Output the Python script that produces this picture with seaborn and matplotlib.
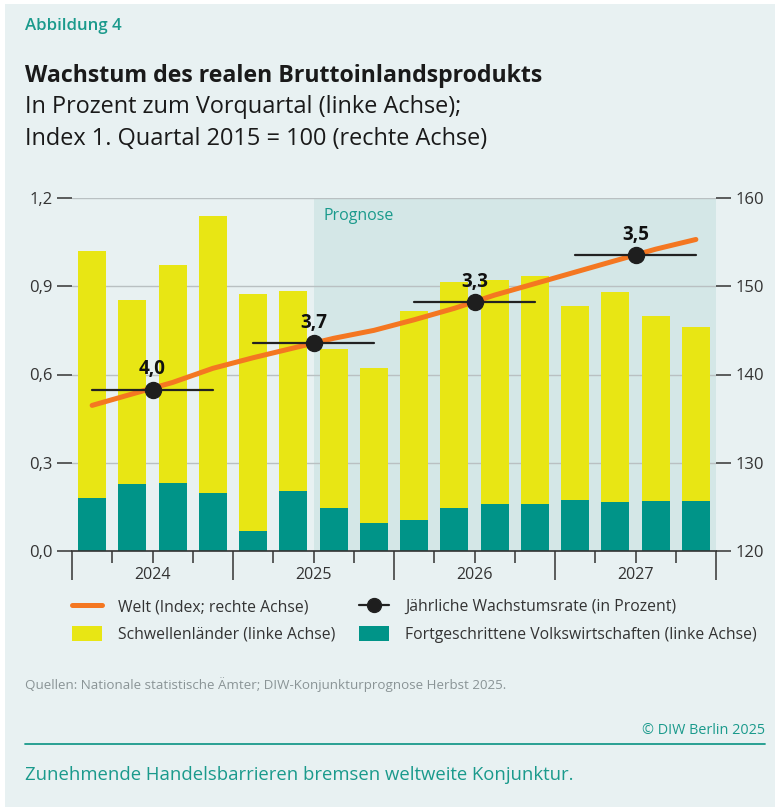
import matplotlib
matplotlib.use("Agg")
import matplotlib.pyplot as plt
import matplotlib.patches as mpatches
from matplotlib.lines import Line2D
import numpy as np
import pandas as pd
import seaborn as sns

# ---------------- data ----------------
quarters = ["2024Q1", "2024Q2", "2024Q3", "2024Q4",
            "2025Q1", "2025Q2", "2025Q3", "2025Q4",
            "2026Q1", "2026Q2", "2026Q3", "2026Q4",
            "2027Q1", "2027Q2", "2027Q3", "2027Q4"]
total_growth = [1.02, 0.853, 0.972, 1.139, 0.874, 0.884, 0.687, 0.622,
                0.816, 0.915, 0.921, 0.936, 0.833, 0.879, 0.799, 0.761]
advanced = [0.181, 0.228, 0.231, 0.197, 0.068, 0.205, 0.147, 0.096,
            0.105, 0.146, 0.159, 0.159, 0.172, 0.168, 0.170, 0.170]
world_index = [136.5, 137.8, 139.1, 140.7, 141.9, 143.0, 144.1, 145.0,
               146.2, 147.5, 149.0, 150.3, 151.6, 152.9, 154.2, 155.3]
years = ["2024", "2025", "2026", "2027"]
annual_level = [138.3, 143.6, 148.2, 153.5]
annual_rate_labels = ["4,0", "3,7", "3,3", "3,5"]
left_ticks = [0.0, 0.3, 0.6, 0.9, 1.2]
left_ticklabels = ["0,0", "0,3", "0,6", "0,9", "1,2"]
right_ticks = [120, 130, 140, 150, 160]

df = pd.DataFrame({"quarter": quarters, "total": total_growth,
                   "advanced": advanced, "world": world_index})
df["pos"] = np.arange(len(df))

# ---------------- style ----------------
BG = "#e8f1f2"
PROG = "#d4e7e7"
YELLOW = "#e8e614"
TEAL = "#009488"
ORANGE = "#f47721"
DARK = "#333333"
GRID = "#b9c0c2"
TEALTXT = "#1a9a8c"

sns.set_theme(style="white")
plt.rcParams["font.family"] = ["Open Sans", "DejaVu Sans"]

W, H = 775, 807
fig = plt.figure(figsize=(W / 100, H / 100), dpi=100)
fig.patch.set_facecolor("white")
fig.patches.append(mpatches.Rectangle((5 / W, 0), 1, 1 - 4 / H, transform=fig.transFigure,
                                      facecolor=BG, edgecolor="none", zorder=-10))

def fx(px):
    return px / W

def fy(py):
    return 1 - py / H

ax = fig.add_axes([fx(72), fy(551), fx(716) - fx(72), fy(198) - fy(551)])
ax.patch.set_alpha(0)

# prognosis shade
ax.axvspan(5.5, 15.5, ymin=0, ymax=1, facecolor=PROG, edgecolor="none", zorder=0)
for t in left_ticks[1:]:
    ax.axhline(t, color=GRID, lw=1, zorder=0.5)

sns.barplot(data=df, x="pos", y="total", color=YELLOW, width=0.7, saturation=1,
            ax=ax, native_scale=True, zorder=2, edgecolor="none")
sns.barplot(data=df, x="pos", y="advanced", color=TEAL, width=0.7, saturation=1,
            ax=ax, native_scale=True, zorder=3, edgecolor="none")

ax.set_xlim(-0.5, 15.5)
ax.set_ylim(0, 1.2)
ax.set_xlabel("")
ax.set_ylabel("")
for s in ["top", "right", "left"]:
    ax.spines[s].set_visible(False)
ax.spines["bottom"].set_color(DARK)
ax.spines["bottom"].set_linewidth(1.2)
ax.spines["bottom"].set_zorder(5)

ax.set_yticks(left_ticks, left_ticklabels)
ax.tick_params(axis="y", which="major", length=11, width=1.1, color=DARK,
               labelcolor=DARK, labelsize=12, pad=3, left=True)

year_bounds = [-0.5, 3.5, 7.5, 11.5, 15.5]
q_bounds = [b + 0.0 for b in np.arange(-0.5, 16, 1.0) if b not in year_bounds]
ax.set_xticks(year_bounds, [""] * len(year_bounds))
ax.set_xticks(q_bounds, minor=True)
minor_labels = []
for b in q_bounds:
    lab = ""
    for i, y in enumerate(years):
        if abs(b - (1.5 + 4 * i)) < 1e-6:
            lab = y
    minor_labels.append(lab)
ax.set_xticklabels(minor_labels, minor=True)
ax.tick_params(axis="x", which="major", length=21, width=1.1, color=DARK, bottom=True)
ax.tick_params(axis="x", which="minor", length=8.5, width=1.1, color=DARK, bottom=True,
               labelsize=11.5, labelcolor=DARK, pad=3)

ax.text(5.75, 1.138, "Prognose", color=TEALTXT, fontsize=11.5, va="center", ha="left", zorder=6)

# right axis
ax2 = ax.twinx()
ax2.set_ylim(120, 160)
ax2.set_yticks(right_ticks, [str(t) for t in right_ticks])
for s in ["top", "right", "left", "bottom"]:
    ax2.spines[s].set_visible(False)
ax2.tick_params(axis="y", length=11, width=1.1, color=DARK, labelcolor=DARK,
                labelsize=12, pad=3, right=True)

sns.lineplot(data=df, x="pos", y="world", color=ORANGE, lw=3.6, ax=ax2,
             solid_capstyle="round", zorder=4)
ax2.set_xlabel("")
ax2.set_ylabel("")

for i, (lvl, lab) in enumerate(zip(annual_level, annual_rate_labels)):
    x0, x1 = 4 * i, 4 * i + 3
    ax2.plot([x0, x1], [lvl, lvl], color="#222222", lw=1.6, zorder=5)
    ax2.plot([4 * i + 1.5], [lvl], "o", color="#1e1e1e", ms=11.5, zorder=6)
    ax2.text(4 * i + 1.5, lvl + 1.15, lab, ha="center", va="bottom", fontsize=13.5,
             fontweight="bold", color="#111111", zorder=7)
ax2.set_xlim(-0.5, 15.5)

# legend
handles = [
    Line2D([], [], color=ORANGE, lw=3.6, solid_capstyle="round"),
    mpatches.Patch(facecolor=YELLOW, edgecolor="none"),
    Line2D([], [], color="#222222", lw=1.6, marker="o", ms=10, markerfacecolor="#1e1e1e"),
    mpatches.Patch(facecolor=TEAL, edgecolor="none"),
]
labels = ["Welt (Index; rechte Achse)", "Schwellenländer (linke Achse)",
          "Jährliche Wachstumsrate (in Prozent)", "Fortgeschrittene Volkswirtschaften (linke Achse)"]
leg = fig.legend(handles, labels, ncol=2, loc="upper left",
                 bbox_to_anchor=(fx(59), fy(586)), frameon=False, fontsize=11.3,
                 handlelength=1.95, handleheight=1.05, handletextpad=1.0,
                 columnspacing=1.5, labelspacing=0.7, labelcolor=DARK, borderpad=0.3)

# texts
fig.text(fx(25), fy(26), "Abbildung 4", color=TEALTXT, fontsize=12.2, fontweight="semibold",
         va="center", ha="left")
fig.text(fx(25), fy(76), "Wachstum des realen Bruttoinlandsprodukts", color="#1a1a1a",
         fontsize=16.7, fontweight="bold", va="center", ha="left")
fig.text(fx(25), fy(107), "In Prozent zum Vorquartal (linke Achse);", color="#1a1a1a",
         fontsize=16.9, va="center", ha="left")
fig.text(fx(25), fy(139), "Index 1. Quartal 2015 = 100 (rechte Achse)", color="#1a1a1a",
         fontsize=16.9, va="center", ha="left")
fig.text(fx(25), fy(685), "Quellen: Nationale statistische Ämter; DIW-Konjunkturprognose Herbst 2025.",
         color="#8a9496", fontsize=9.6, va="center", ha="left")
fig.text(fx(765), fy(730), "© DIW Berlin 2025", color=TEALTXT, fontsize=10.4,
         va="center", ha="right")
fig.add_artist(Line2D([fx(25), fx(765)], [fy(744), fy(744)], color=TEALTXT, lw=1.3,
                      transform=fig.transFigure))
fig.text(fx(25), fy(775), "Zunehmende Handelsbarrieren bremsen weltweite Konjunktur.",
         color=TEALTXT, fontsize=13.3, va="center", ha="left")

fig.savefig("out.png", dpi=100, facecolor=fig.get_facecolor())
